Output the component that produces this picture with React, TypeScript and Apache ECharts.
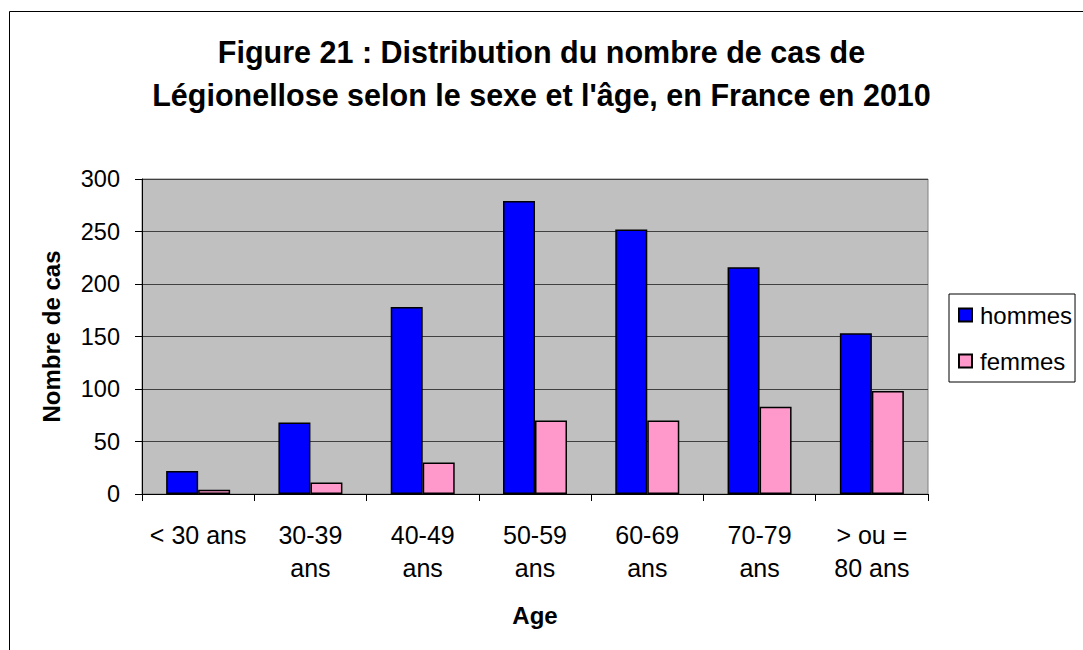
import React, { useEffect, useRef } from "react";
import * as echarts from "echarts";

const categories = [
  "< 30 ans",
  "30-39\nans",
  "40-49\nans",
  "50-59\nans",
  "60-69\nans",
  "70-79\nans",
  "> ou =\n80 ans",
];
const hommes = [22, 68, 178, 279, 252, 216, 153];
const femmes = [4, 11, 30, 70, 70, 83, 98];
const yTicks = { min: 0, max: 300, interval: 50 };

const FONT = "'Liberation Sans', Arial, Helvetica, sans-serif";

export default function App() {
  const ref = useRef<HTMLDivElement>(null);
  useEffect(() => {
    document.body.style.margin = "0";
    const chart = echarts.init(ref.current!, undefined, { renderer: "svg" });
    chart.setOption({
      animation: false,
      backgroundColor: "#ffffff",
      textStyle: { fontFamily: FONT },
      title: {
        text:
          "Figure 21 : Distribution du nombre de cas de\nLégionellose selon le sexe et l'âge, en France en 2010",
        left: "center",
        top: 30,
        padding: 0,
        textStyle: {
          fontFamily: FONT,
          fontSize: 30.5,
          fontWeight: "bold",
          color: "#000",
          lineHeight: 43,
        },
      },
      graphic: [
        {
          type: "rect",
          shape: { x: 9.5, y: 11.5, width: 1200, height: 800 },
          style: { fill: "none", stroke: "#000", lineWidth: 1 },
          silent: true,
          z: -1,
        },
      ],
      legend: {
        orient: "vertical",
        left: 949,
        top: 294,
        padding: [9, 3, 9, 9],
        itemGap: 22,
        itemWidth: 13,
        itemHeight: 13,
        icon: "rect",
        borderColor: "#000",
        borderWidth: 1,
        backgroundColor: "#fff",
        textStyle: { fontFamily: FONT, fontSize: 24, color: "#000", padding: [0, 0, 0, 3] },
        data: ["hommes", "femmes"],
      },
      grid: {
        left: 142,
        right: 155,
        top: 179,
        bottom: 156,
        show: true,
        backgroundColor: "#C0C0C0",
        borderColor: "#808080",
        borderWidth: 1,
      },
      xAxis: {
        type: "category",
        data: categories,
        name: "Age",
        nameLocation: "middle",
        nameGap: 109,
        nameTextStyle: { fontFamily: FONT, fontSize: 24, fontWeight: "bold", color: "#000" },
        axisLine: { lineStyle: { color: "#000", width: 1 } },
        axisTick: { show: true, length: 7, lineStyle: { color: "#000" } },
        axisLabel: {
          interval: 0,
          fontFamily: FONT,
          fontSize: 25,
          lineHeight: 33,
          color: "#000",
          margin: 24,
        },
      },
      yAxis: {
        type: "value",
        min: yTicks.min,
        max: yTicks.max,
        interval: yTicks.interval,
        name: "Nombre de cas",
        nameLocation: "middle",
        nameGap: 79,
        nameTextStyle: { fontFamily: FONT, fontSize: 24, fontWeight: "bold", color: "#000" },
        axisLine: { show: true, lineStyle: { color: "#000", width: 1 } },
        axisTick: { show: true, length: 7, lineStyle: { color: "#000" } },
        axisLabel: { fontFamily: FONT, fontSize: 23.5, color: "#000", margin: 22 },
        splitLine: { show: true, lineStyle: { color: "#404040", width: 1 } },
      },
      series: [
        {
          name: "hommes",
          type: "bar",
          data: hommes,
          barWidth: 32,
          barGap: "0%",
          itemStyle: { color: "#0000FF", borderColor: "#000", borderWidth: 1.5 },
        },
        {
          name: "femmes",
          type: "bar",
          data: femmes,
          barWidth: 32,
          barGap: "0%",
          itemStyle: { color: "#FF99CC", borderColor: "#000", borderWidth: 1.5 },
        },
      ],
    });
    return () => chart.dispose();
  }, []);
  return <div ref={ref} style={{ width: 1083, height: 650 }} />;
}
